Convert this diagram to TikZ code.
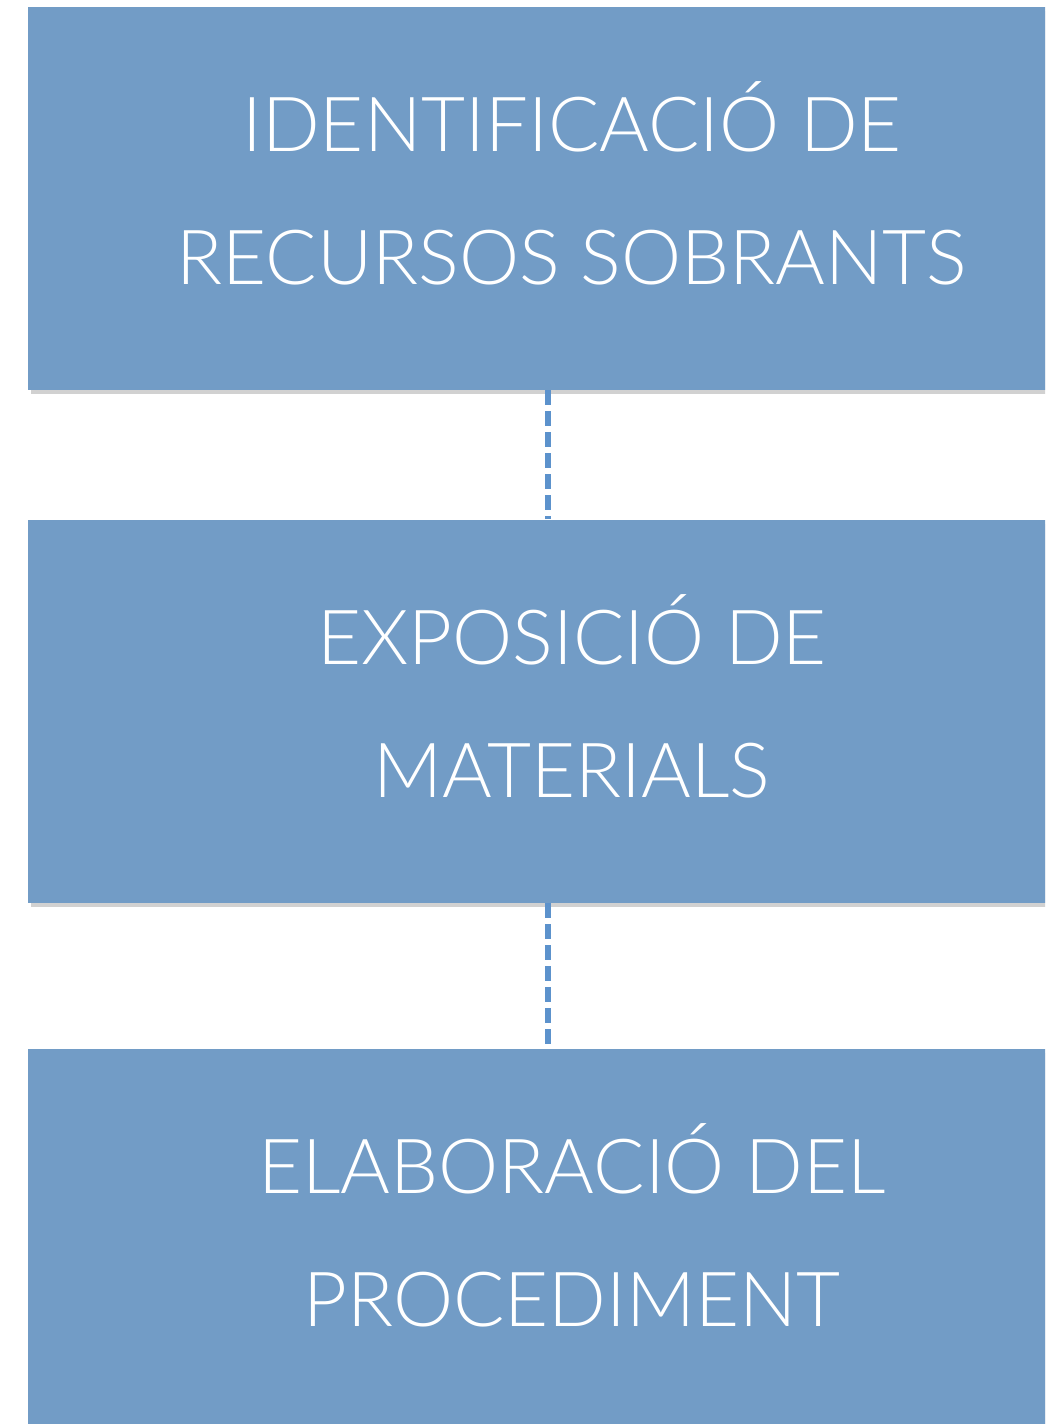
\documentclass[tikz,border=0pt]{standalone}
\usepackage{fontspec}
\setmainfont{Lato Light}
\usetikzlibrary{positioning,shadows}
\definecolor{caixablau}{RGB}{114,156,198}
\definecolor{liniablau}{RGB}{92,146,204}
\tikzset{
    %Define style for boxes
    caixa/.style={
           rectangle,
           fill=caixablau,
           minimum width=544pt,
           minimum height=191.5pt,
           text=white,
           text depth=15pt,
           align=center,
           font=\fontsize{38}{66.5}\selectfont,
           drop shadow={shadow xshift=1.5pt,shadow yshift=-2pt,opacity=0.18,fill=black}},
    % Define connector style
    linia/.style={
           draw=liniablau,
           line width=2.8pt,
           dash pattern=on 7.5pt off 3pt}
}

\begin{document}
\begin{tikzpicture}[x=0.5pt,y=-0.5pt]
\useasboundingbox (0,0) rectangle (1045,1424);
\clip (0,0) rectangle (1045,1424);
\fill[white] (0,0) rectangle (1045,1424);

% The three steps, one under the other
\node[caixa] (ident) at (572,198.5) {IDENTIFICACIÓ DE\\RECURSOS SOBRANTS};
\node[caixa, below=64.5pt of ident] (expo) {EXPOSICIÓ DE\\MATERIALS};
\node[caixa, below=72.5pt of expo] (elab) {ELABORACIÓ DEL\\PROCEDIMENT};

% Now connect the boxes
\draw[linia] ([xshift=-12pt]ident.south) -- ([xshift=-12pt]expo.north);
\draw[linia] ([xshift=-12pt]expo.south) -- ([xshift=-12pt]elab.north);
\end{tikzpicture}
\end{document}
